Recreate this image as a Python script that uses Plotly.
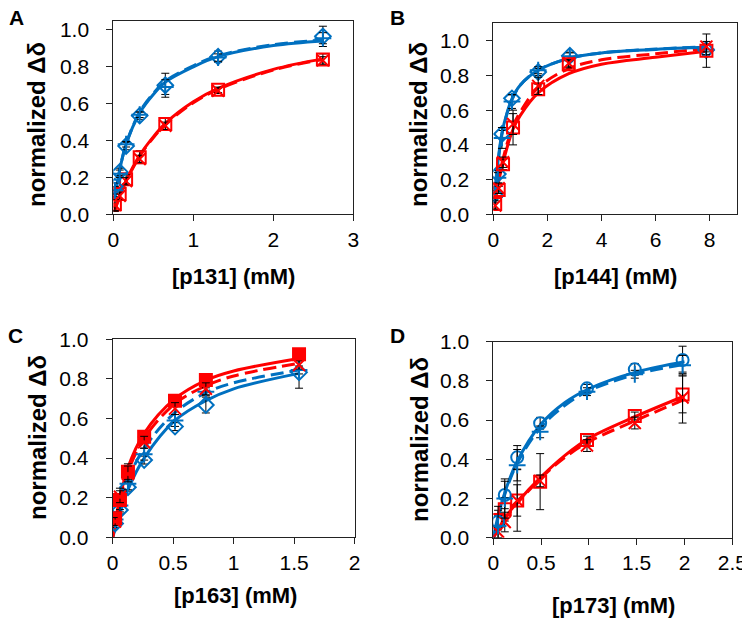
import plotly.graph_objects as go

BLUE = "#0070C0"
RED = "#FF0000"

# ---------------- Panel A ----------------
A_x = [0.02, 0.08, 0.16, 0.33, 0.65, 1.31, 2.62]
A_blue1 = [0.15, 0.23, 0.37, 0.535, 0.70, 0.855, 0.965]
A_blue1_err = [0.02, 0.02, 0.02, 0.02, 0.065, 0.03, 0.055]
A_blue2 = [0.13, 0.22, 0.38, 0.54, 0.69, 0.85, 0.955]
A_blue2_err = [0.02, 0.02, 0.015, 0.015, 0.04, 0.02, 0.03]
A_red1 = [0.055, 0.11, 0.19, 0.31, 0.49, 0.675, 0.84]
A_red1_err = [0.04, 0.03, 0.025, 0.035, 0.035, 0.015, 0.03]
A_red2 = [0.05, 0.10, 0.18, 0.30, 0.48, 0.67, 0.835]
A_red2_err = [0.03, 0.02, 0.02, 0.02, 0.02, 0.015, 0.02]
A_fit_x = [0.02, 0.08, 0.16, 0.33, 0.5, 0.66, 1.0, 1.31, 2.0, 2.62]
A_blue_fit = [0.09, 0.24, 0.38, 0.55, 0.65, 0.72, 0.80, 0.855, 0.915, 0.94]
A_blue_fit_d = [0.09, 0.24, 0.38, 0.555, 0.655, 0.725, 0.805, 0.86, 0.92, 0.945]
A_red_fit = [0.027, 0.10, 0.183, 0.32, 0.42, 0.497, 0.61, 0.683, 0.786, 0.843]
A_red_fit_d = [0.025, 0.095, 0.178, 0.315, 0.415, 0.49, 0.605, 0.678, 0.782, 0.84]

# ---------------- Panel B ----------------
B_x_blue = [0.05, 0.17, 0.32, 0.69, 1.66, 2.83, 7.87]
B_blue1 = [0.117, 0.232, 0.463, 0.668, 0.82, 0.914, 0.947]
B_blue1_err = [0.02, 0.02, 0.02, 0.02, 0.02, 0.02, 0.03]
B_blue2 = [0.10, 0.21, 0.44, 0.65, 0.83, 0.91, 0.95]
B_blue2_err = [0.02, 0.03, 0.06, 0.04, 0.02, 0.02, 0.03]
B_x_red = [0.07, 0.2, 0.36, 0.73, 1.66, 2.79, 7.88]
B_red1 = [0.06, 0.14, 0.288, 0.50, 0.72, 0.864, 0.943]
B_red1_err = [0.03, 0.02, 0.03, 0.10, 0.03, 0.02, 0.096]
B_red2 = [0.05, 0.15, 0.30, 0.52, 0.74, 0.87, 0.966]
B_red2_err = [0.02, 0.03, 0.03, 0.06, 0.05, 0.02, 0.03]
B_fit_x_blue = [0.05, 0.17, 0.32, 0.5, 0.69, 1.0, 1.66, 2.83, 4, 6, 7.87]
B_blue_fit = [0.12, 0.30, 0.47, 0.58, 0.665, 0.745, 0.83, 0.90, 0.93, 0.95, 0.962]
B_blue_fit_d = [0.11, 0.29, 0.46, 0.575, 0.66, 0.745, 0.83, 0.90, 0.93, 0.952, 0.965]
B_fit_x_red = [0.07, 0.2, 0.36, 0.73, 1.0, 1.66, 2.79, 4, 6, 7.88]
B_red_fit = [0.07, 0.19, 0.30, 0.49, 0.57, 0.70, 0.81, 0.865, 0.905, 0.94]
B_red_fit_d = [0.08, 0.2, 0.32, 0.51, 0.59, 0.73, 0.84, 0.89, 0.925, 0.955]

# ---------------- Panel C ----------------
C_x = [0.02, 0.06, 0.126, 0.26, 0.515, 0.77, 1.54]
C_blue1 = [0.07, 0.138, 0.253, 0.39, 0.559, 0.668, 0.833]
C_blue1_err = [0.02, 0.02, 0.02, 0.02, 0.02, 0.04, 0.08]
C_blue2 = [0.09, 0.16, 0.27, 0.42, 0.59, 0.735, 0.845]
C_blue2_err = [0.02, 0.02, 0.03, 0.03, 0.03, 0.02, 0.02]
C_red1 = [0.096, 0.188, 0.331, 0.508, 0.69, 0.795, 0.924]
C_red1_err = [0.02, 0.06, 0.04, 0.03, 0.02, 0.015, 0.02]
C_red2 = [0.08, 0.205, 0.32, 0.48, 0.65, 0.75, 0.87]
C_red2_err = [0.02, 0.03, 0.04, 0.03, 0.03, 0.03, 0.02]
C_fit_x = [0, 0.02, 0.06, 0.126, 0.26, 0.515, 0.77, 1.0, 1.54]
C_blue_fit = [0, 0.04, 0.12, 0.24, 0.40, 0.59, 0.69, 0.75, 0.828]
C_blue_fit_d = [0, 0.06, 0.16, 0.29, 0.45, 0.63, 0.73, 0.78, 0.845]
C_red_fit = [0, 0.078, 0.198, 0.352, 0.525, 0.70, 0.793, 0.84, 0.903]
C_red_fit_d = [0, 0.07, 0.18, 0.33, 0.50, 0.675, 0.765, 0.815, 0.879]

# ---------------- Panel D ----------------
D_x = [0.05, 0.12, 0.25, 0.49, 0.98, 1.48, 1.98]
D_blue1 = [0.082, 0.218, 0.41, 0.584, 0.762, 0.859, 0.907]
D_blue1_err = [0.03, 0.07, 0.06, 0.03, 0.02, 0.03, 0.07]
D_blue2 = [0.06, 0.20, 0.37, 0.54, 0.745, 0.834, 0.88]
D_blue2_err = [0.1, 0.1, 0.08, 0.03, 0.02, 0.02, 0.05]
D_red1 = [0.09, 0.145, 0.19, 0.286, 0.498, 0.621, 0.731]
D_red1_err = [0.05, 0.06, 0.157, 0.143, 0.02, 0.02, 0.094]
D_red2 = [0.03, 0.08, 0.19, 0.29, 0.47, 0.585, 0.715]
D_red2_err = [0.03, 0.05, 0.08, 0.03, 0.03, 0.03, 0.13]
D_fit_x = [0, 0.06, 0.12, 0.25, 0.5, 0.75, 1.0, 1.5, 2.0]
D_blue_fit = [0, 0.13, 0.23, 0.39, 0.58, 0.69, 0.76, 0.846, 0.898]
D_blue_fit_d = [0, 0.12, 0.22, 0.38, 0.565, 0.675, 0.75, 0.835, 0.885]
D_red_fit = [0, 0.05, 0.10, 0.18, 0.31, 0.42, 0.507, 0.621, 0.723]
D_red_fit_d = [0, 0.05, 0.095, 0.175, 0.305, 0.41, 0.49, 0.60, 0.706]

X_TITLES = ["[p131] (mM)", "[p144] (mM)", "[p163] (mM)", "[p173] (mM)"]
Y_TITLE = "normalized Δδ"
PANEL_LABELS = ["A", "B", "C", "D"]

# the page body has an 8px default margin: the figure is sized to fill the rest of the window
OFF = 8
W, H = 750 - OFF, 623 - OFF
FONT = "Liberation Sans, Arial, sans-serif"


def fx(px):
    return (px - OFF) / W


def fy(py):
    return 1 - (py - OFF) / H


# plot-area boxes in window pixels (left, right, top, bottom)
boxes = [(113.3, 353.3, 20.7, 214.3), (493.3, 736.7, 22.7, 214.3),
         (112.7, 354.7, 339.3, 537.3), (493.3, 732.3, 341.7, 537.7)]
xranges = [[0, 3], [0, 9], [0, 2], [0, 2.5]]
yranges = [[0, 1.05], [0, 1.104], [0, 1.0], [0, 1.0]]
xdticks = [1, 2, 0.5, 0.5]

fig = go.Figure()


def add_panel(i, fits, pts):
    xa = "x" if i == 0 else f"x{i+1}"
    ya = "y" if i == 0 else f"y{i+1}"
    for cx, cy, color, dash in fits:
        fig.add_trace(go.Scatter(x=cx, y=cy, mode="lines", xaxis=xa, yaxis=ya,
                                 line=dict(color=color, width=3, dash=dash, shape="spline"),
                                 showlegend=False, hoverinfo="skip"))
    for px, py, err, color, sym in pts:
        fig.add_trace(go.Scatter(x=px, y=py, mode="markers", xaxis=xa, yaxis=ya,
                                 marker=dict(symbol=sym, size=12, color=color,
                                             line=dict(color=color, width=2)),
                                 error_y=dict(type="data", array=err, color="black",
                                              thickness=1, width=4),
                                 showlegend=False))


DASH = "13px,6px"
add_panel(0,
          [(A_fit_x, A_red_fit, RED, "solid"), (A_fit_x, A_red_fit_d, RED, DASH),
           (A_fit_x, A_blue_fit, BLUE, "solid"), (A_fit_x, A_blue_fit_d, BLUE, DASH)],
          [(A_x, A_red1, A_red1_err, RED, "square-open"), (A_x, A_red2, A_red2_err, RED, "x-thin-open"),
           (A_x, A_blue1, A_blue1_err, BLUE, "diamond-open"), (A_x, A_blue2, A_blue2_err, BLUE, "cross-thin-open")])
add_panel(1,
          [(B_fit_x_red, B_red_fit, RED, "solid"), (B_fit_x_red, B_red_fit_d, RED, DASH),
           (B_fit_x_blue, B_blue_fit, BLUE, "solid"), (B_fit_x_blue, B_blue_fit_d, BLUE, DASH)],
          [(B_x_blue, B_blue1, B_blue1_err, BLUE, "diamond-open"), (B_x_blue, B_blue2, B_blue2_err, BLUE, "cross-thin-open"),
           (B_x_red, B_red1, B_red1_err, RED, "square-open"), (B_x_red, B_red2, B_red2_err, RED, "x-thin-open")])
add_panel(2,
          [(C_fit_x, C_blue_fit, BLUE, "solid"), (C_fit_x, C_blue_fit_d, BLUE, DASH),
           (C_fit_x, C_red_fit, RED, "solid"), (C_fit_x, C_red_fit_d, RED, DASH)],
          [(C_x, C_blue1, C_blue1_err, BLUE, "diamond-open"), (C_x, C_blue2, C_blue2_err, BLUE, "cross-thin-open"),
           (C_x, C_red1, C_red1_err, RED, "square"), (C_x, C_red2, C_red2_err, RED, "x-thin-open")])
add_panel(3,
          [(D_fit_x, D_red_fit, RED, "solid"), (D_fit_x, D_red_fit_d, RED, DASH),
           (D_fit_x, D_blue_fit, BLUE, "solid"), (D_fit_x, D_blue_fit_d, BLUE, DASH)],
          [(D_x, D_red1, D_red1_err, RED, "square-open"), (D_x, D_red2, D_red2_err, RED, "x-thin-open"),
           (D_x, D_blue1, D_blue1_err, BLUE, "circle-open"), (D_x, D_blue2, D_blue2_err, BLUE, "cross-thin-open")])

layout = dict(width=W, height=H, margin=dict(l=0, r=0, t=0, b=0, autoexpand=False),
              paper_bgcolor="white", plot_bgcolor="white",
              font=dict(family=FONT, color="black", size=20))
axis_common = dict(showline=True, linecolor="#222222", linewidth=1, mirror=True,
                   ticks="outside", ticklen=6, tickcolor="#222222", showgrid=False,
                   zeroline=False, automargin=False,
                   tickfont=dict(size=21, family=FONT, color="black"))
for i, (l, r, t, b) in enumerate(boxes):
    xk = "xaxis" if i == 0 else f"xaxis{i+1}"
    yk = "yaxis" if i == 0 else f"yaxis{i+1}"
    ya = "y" if i == 0 else f"y{i+1}"
    xa = "x" if i == 0 else f"x{i+1}"
    layout[xk] = dict(axis_common, domain=[fx(l), fx(r)], range=xranges[i], anchor=ya,
                      dtick=xdticks[i], tick0=0, ticklabelstandoff=0)
    layout[yk] = dict(axis_common, domain=[fy(b), fy(t)], range=yranges[i], anchor=xa,
                      dtick=0.2, tick0=0, tickformat=".1f", ticklabelstandoff=13)
fig.update_layout(**layout)

ytitle_pos = [(37, 125), (419, 125), (37, 438), (419, 440)]
xtitle_pos = [(234, 276), (615, 276), (235, 595), (613, 605)]
label_pos = [(16, 17), (398, 17), (15, 335), (398, 335)]
for i in range(4):
    fig.add_annotation(x=fx(ytitle_pos[i][0]), y=fy(ytitle_pos[i][1]), xref="paper", yref="paper",
                       text=f"<b>{Y_TITLE}</b>", textangle=-90, showarrow=False,
                       font=dict(size=24, family=FONT, color="black"), xanchor="center", yanchor="middle")
    fig.add_annotation(x=fx(xtitle_pos[i][0]), y=fy(xtitle_pos[i][1]), xref="paper", yref="paper",
                       text=f"<b>{X_TITLES[i]}</b>", showarrow=False,
                       font=dict(size=22, family=FONT, color="black"), xanchor="center", yanchor="middle")
    fig.add_annotation(x=fx(label_pos[i][0]), y=fy(label_pos[i][1]), xref="paper", yref="paper",
                       text=f"<b>{PANEL_LABELS[i]}</b>", showarrow=False, borderpad=0,
                       height=18, valign="middle",
                       font=dict(size=21, family=FONT, color="black"), xanchor="center", yanchor="middle")

fig.write_html("out.html")
